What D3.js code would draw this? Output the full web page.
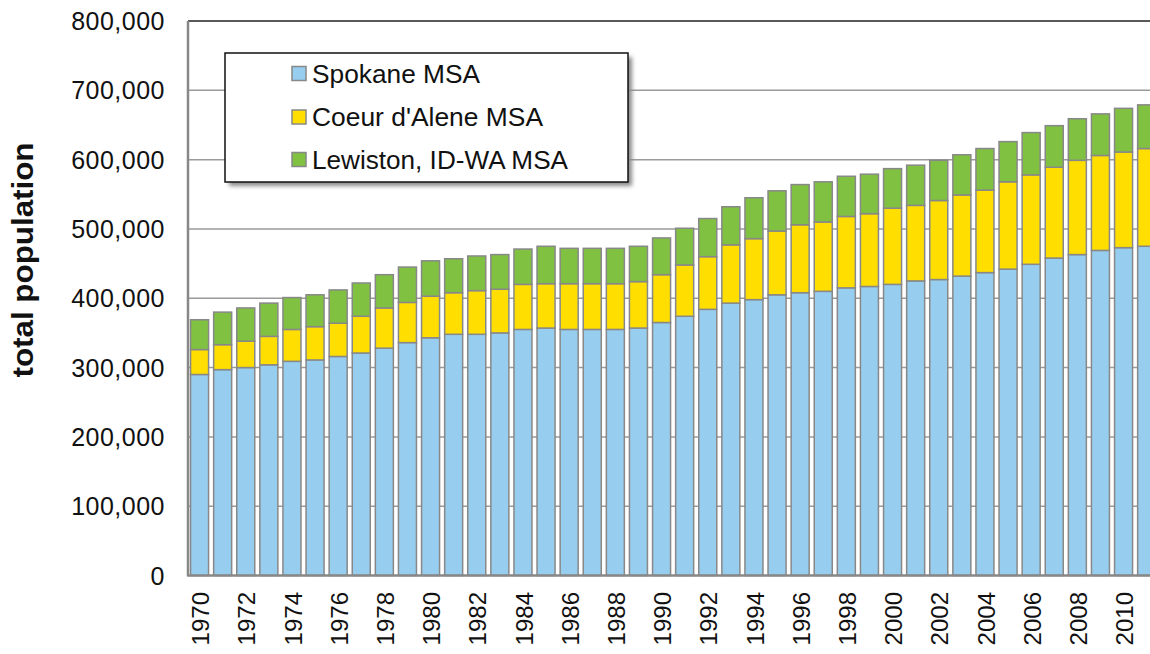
<!DOCTYPE html>
<html>
<head>
<meta charset="utf-8">
<script src="https://cdn.jsdelivr.net/npm/d3@7"></script>
<style>
  html, body { margin: 0; padding: 0; background: #fff; overflow: hidden; }
  svg { display: block; font-family: "Liberation Sans", Arial, sans-serif; }
</style>
</head>
<body>
<svg id="chart" width="1150" height="654"></svg>
<script>
const years = d3.range(1970, 2012).map(String);
const seriesNames = ["Spokane MSA", "Coeur d'Alene MSA", "Lewiston, ID-WA MSA"];
const spokane = [290,297,300,304,309,311,316,321,328,336, 343,348,348,350,355,357,355,355,355,357,
                 365,374,384,393,398,405,408,410,415,417, 420,425,427,432,437,442,449,458,463,469, 473,475].map(v => v * 1000);
const coeurDAlene = [36,36,38,41,46,48,48,53,58,58, 60,60,63,63,65,64,66,66,66,67,
                     69,74,76,84,88,92,98,100,103,105, 110,109,114,117,119,126,129,131,136,137, 138,141].map(v => v * 1000);
const lewiston = [43,47,48,48,46,46,48,48,48,51, 51,49,50,50,51,54,51,51,51,51,
                  53,53,55,55,59,58,58,58,58,57, 57,58,58,58,60,58,61,60,60,60, 63,63].map(v => v * 1000);
const yTicks = [0,100000,200000,300000,400000,500000,600000,700000,800000];
const xTickLabels = years.filter((y, i) => i % 2 === 0);
const colors = ["#97CEEF", "#FFDE00", "#80C142"];

(function () {
const svg = d3.select("#chart");
const plotLeft = 188, plotTop = 21, plotBottom = 575.5;
const step = 23.1;
const x = d3.scaleBand().domain(years).range([plotLeft, plotLeft + step * years.length]).paddingInner(0.22).paddingOuter(0.11);
const y = d3.scaleLinear().domain([0, 800000]).range([plotBottom, plotTop]);

// gridlines
svg.append("g").selectAll("line").data(yTicks.filter(d => d > 0)).join("line")
  .attr("x1", plotLeft).attr("x2", 1150)
  .attr("y1", d => y(d)).attr("y2", d => y(d))
  .attr("stroke", d => d === 800000 ? "#222" : "#9a9a9a")
  .attr("stroke-width", 1.5);

// stacked bars
const table = years.map((yr, i) => ({year: yr, s0: spokane[i], s1: coeurDAlene[i], s2: lewiston[i]}));
const stack = d3.stack().keys(["s0", "s1", "s2"])(table);
svg.append("g").selectAll("g").data(stack).join("g")
  .attr("fill", (d, i) => colors[i])
  .selectAll("rect").data(d => d).join("rect")
  .attr("x", d => x(d.data.year))
  .attr("width", x.bandwidth())
  .attr("y", d => y(d[1]))
  .attr("height", d => y(d[0]) - y(d[1]))
  .attr("stroke", "#888")
  .attr("stroke-width", 1.5);

// axes lines
svg.append("line").attr("x1", plotLeft).attr("x2", plotLeft).attr("y1", plotTop).attr("y2", plotBottom + 1)
  .attr("stroke", "#888").attr("stroke-width", 2.5);
svg.append("line").attr("x1", plotLeft).attr("x2", 1150).attr("y1", plotBottom).attr("y2", plotBottom)
  .attr("stroke", "#888").attr("stroke-width", 2.5);

// y tick labels
const fmt = d3.format(",");
svg.append("g").selectAll("text").data(yTicks).join("text")
  .attr("x", 165).attr("y", d => y(d)).attr("dy", "0.36em")
  .attr("text-anchor", "end")
  .attr("font-size", 25).attr("letter-spacing", 0.5)
  .attr("fill", "#111")
  .text(d => fmt(d));

// x tick labels
svg.append("g").selectAll("text").data(xTickLabels).join("text")
  .attr("transform", d => `translate(${x(d) + x.bandwidth() / 2 + 1},592) rotate(-90)`)
  .attr("dy", "0.36em")
  .attr("text-anchor", "end")
  .attr("font-size", 24)
  .attr("fill", "#111")
  .text(d => d);

// y axis title
svg.append("text")
  .attr("transform", "translate(33,260) rotate(-90)")
  .attr("text-anchor", "middle")
  .attr("font-size", 29).attr("font-weight", "bold")
  .attr("textLength", 235).attr("lengthAdjust", "spacingAndGlyphs")
  .attr("fill", "#111")
  .text("total population");

// legend
const defs = svg.append("defs");
const f = defs.append("filter").attr("id", "shadow").attr("x", "-10%").attr("y", "-10%").attr("width", "130%").attr("height", "140%");
f.append("feGaussianBlur").attr("stdDeviation", 2);
const lg = svg.append("g");
lg.append("rect").attr("x", 229).attr("y", 57).attr("width", 403).attr("height", 129)
  .attr("fill", "#8a8a8a").attr("filter", "url(#shadow)");
lg.append("rect").attr("x", 225).attr("y", 53).attr("width", 403).attr("height", 129)
  .attr("fill", "#fff").attr("stroke", "#111").attr("stroke-width", 1.5);
const rowY = [73.5, 117, 159.5];
const textLens = [168, 231, 256];
seriesNames.forEach((name, i) => {
  lg.append("rect").attr("x", 292).attr("y", rowY[i] - 7).attr("width", 14).attr("height", 14)
    .attr("fill", colors[i]).attr("stroke", "#888").attr("stroke-width", 1.5);
  lg.append("text").attr("x", 312).attr("y", rowY[i]).attr("dy", "0.36em")
    .attr("font-size", 25).attr("fill", "#111")
    .attr("textLength", textLens[i]).attr("lengthAdjust", "spacingAndGlyphs")
    .text(name);
});
})();
</script>
</body>
</html>
